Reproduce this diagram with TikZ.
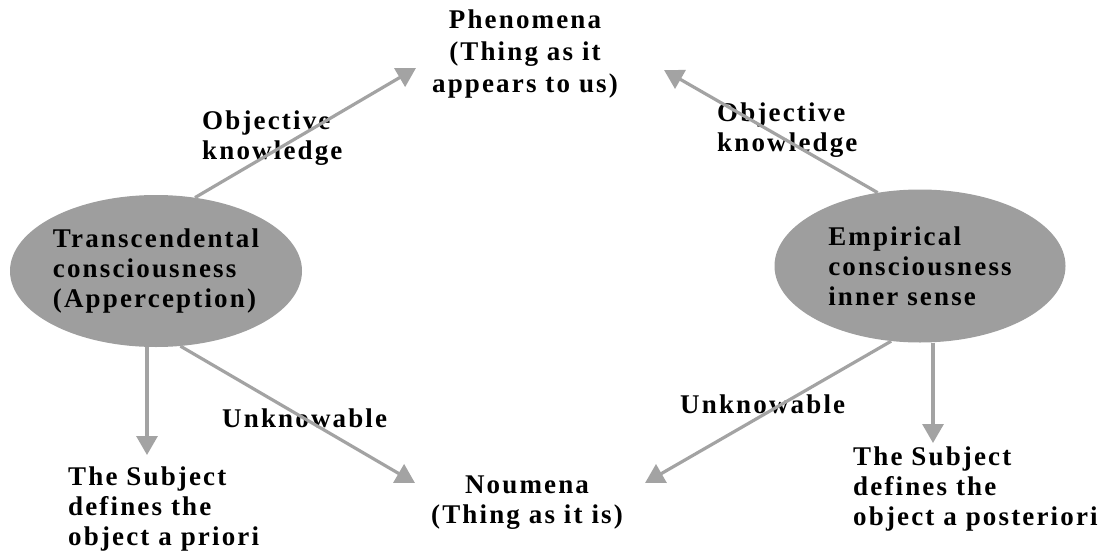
\documentclass[tikz,border=0pt]{standalone}
\usepackage{fontspec}
\setmainfont{Liberation Serif}[LetterSpace=8]
\usetikzlibrary{arrows.meta,shapes.geometric}
\definecolor{ellfill}{RGB}{158,158,158}
\definecolor{arrcol}{RGB}{163,163,163}
\tikzset{
  lbl/.style={inner sep=0pt, font=\bfseries\fontsize{27}{30}\selectfont, text=black},
  ell/.style={ellipse, fill=ellfill, draw=none, inner sep=0pt, align=left,
    font=\bfseries\fontsize{27}{30}\selectfont},
  arr/.style={draw=arrcol, line width=3.2pt, -{Triangle[length=19pt,width=21pt]}},
}
\begin{document}
\begin{tikzpicture}[x=1pt,y=-1pt]
\useasboundingbox (0,0) rectangle (1099,551);
% ellipses
\node[ell, minimum width=292pt, minimum height=152pt] (lt) at (156,271)
  {Transcendental\\consciousness\\(Apperception)};
\node[ell, minimum width=291pt, minimum height=153pt] (rt) at (920,266)
  {Empirical\\consciousness\\inner sense};
% text nodes
\node[lbl, align=center, font=\bfseries\fontsize{27}{32}\selectfont] (phen) at (525,54)
  {Phenomena\\(Thing as it\\appears to us)};
\node[lbl, align=center] (noum) at (527,503) {Noumena\\(Thing as it is)};
\node[lbl, align=left, anchor=west] (okl) at (202,138) {Objective\\knowledge};
\node[lbl, align=left, anchor=west] (okr) at (717,130) {Objective\\knowledge};
\node[lbl, anchor=base west] (unl) at (222,427) {Unknowable};
\node[lbl, anchor=base west] (unr) at (680,413) {Unknowable};
\node[lbl, align=left, anchor=west] (subl) at (68,509) {The Subject\\defines the\\object a priori};
\node[lbl, align=left, anchor=west] (subr) at (853,489) {The Subject\\defines the\\object a posteriori};
% arrow end points
\coordinate (tpl) at (416,68);
\coordinate (tpr) at (664,70);
\coordinate (tnl) at (415,483);
\coordinate (tnr) at (645,483);
\coordinate (tsl) at (147,455);
\coordinate (tsr) at (933,443);
% connectors
\draw[arr] (lt.62) -- (tpl);
\draw[arr] (rt.120) -- (tpr);
\draw[arr] (lt.-72) -- (tnl);
\draw[arr] (rt.-111) -- (tnr);
\draw[arr] (lt.south -| tsl) -- (tsl);
\draw[arr] (rt.south -| tsr) -- (tsr);
\end{tikzpicture}
\end{document}
